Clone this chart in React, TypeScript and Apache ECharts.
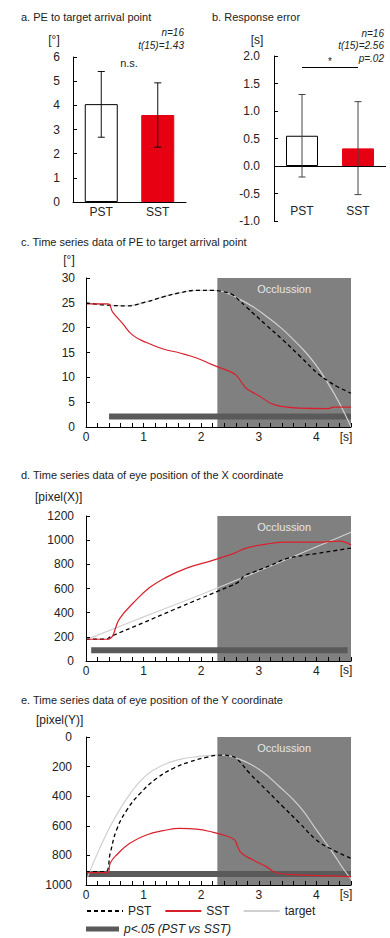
import React, { useEffect, useRef } from 'react';
import * as echarts from 'echarts';

// ---------- data ----------
const barCategories = ['PST', 'SST'];
const peMeans = [4.05, 3.6];
const peLow = [2.68, 2.27];
const peHigh = [5.4, 4.93];
const reMeans = [0.55, 0.32];
const reLow = [-0.2, -0.52];
const reHigh = [1.3, 1.17];
const reSigLevel = 1.8;

const occlusionStart = 2.28;
const occlusionEnd = 4.6;

// panel c: PE to target arrival point [deg]
const cTargetT = [0, 0.3, 0.7, 1.05, 1.34, 1.62, 1.91, 2.2, 2.4, 2.67, 2.9, 3.13, 3.4, 3.6, 3.8, 3.97, 4.17, 4.4, 4.6];
const cTargetV = [25, 24.6, 24.4, 25.2, 26.2, 27, 27.5, 27.5, 27.2, 25.7, 24.2, 22.3, 19.8, 17.6, 15.2, 12.8, 9.4, 4.8, 0];
const cPstT = [0, 0.3, 0.7, 1.05, 1.34, 1.62, 1.91, 2.2, 2.4, 2.55, 2.65, 2.78, 3.13, 3.42, 3.7, 4.05, 4.2, 4.35, 4.6];
const cPstV = [25, 24.6, 24.4, 25.2, 26.2, 27, 27.5, 27.5, 27.2, 26.6, 25.6, 24.2, 20.5, 17.5, 14.4, 10.5, 9.3, 8.2, 6.8];
const cSstT = [0, 0.38, 0.46, 0.63, 0.81, 1.05, 1.34, 1.63, 1.92, 2.2, 2.49, 2.6, 2.7, 2.78, 3.0, 3.24, 3.5, 3.7, 4.2, 4.3, 4.6];
const cSstV = [24.8, 24.8, 23.2, 20.9, 18.5, 17, 15.7, 14.9, 13.9, 12.5, 11.2, 10.5, 9.0, 7.8, 6.3, 4.6, 4.0, 3.8, 3.7, 4.0, 4.0];
const cSigRange = [0.4, 4.6];
const cSigLevel = 2.1;

// panel d: eye position X [pixel]
const dTargetT = [0.05, 1, 2, 3, 4, 4.6];
const dTargetV = [185, 365, 550, 745, 945, 1065];
const dPstT = [0, 0.35, 0.42, 1.0, 1.5, 2.0, 2.29, 2.5, 2.65, 2.75, 2.93, 3.2, 3.47, 3.8, 4.05, 4.3, 4.6];
const dPstV = [180, 180, 200, 318, 420, 520, 578, 620, 655, 705, 740, 790, 845, 876, 893, 912, 934];
const dSstT = [0, 0.37, 0.59, 0.82, 1.11, 1.4, 1.75, 2.1, 2.32, 2.58, 2.78, 3.13, 3.47, 4.0, 4.4, 4.6];
const dSstV = [180, 180, 355, 480, 610, 694, 769, 818, 851, 893, 934, 967, 983, 983, 992, 959];
const dSigRange = [0.09, 4.54];
const dSigLevel = 90;

// panel e: eye position Y [pixel]
const eTargetT = [0.03, 0.25, 0.48, 0.77, 1.05, 1.34, 1.63, 1.92, 2.32, 2.67, 3.02, 3.36, 3.71, 4.0, 4.29, 4.46, 4.6];
const eTargetV = [943, 741, 561, 381, 257, 189, 151, 133, 122, 151, 223, 336, 471, 628, 786, 887, 960];
const ePstT = [0, 0.33, 0.42, 0.53, 0.71, 0.94, 1.23, 1.52, 1.81, 2.09, 2.32, 2.5, 2.61, 2.84, 3.13, 3.42, 3.71, 4.0, 4.23, 4.6];
const ePstV = [910, 910, 786, 628, 493, 381, 279, 211, 167, 137, 122, 128, 144, 245, 358, 471, 583, 696, 752, 820];
const eSstT = [0, 0.38, 0.42, 0.53, 0.76, 1.05, 1.34, 1.63, 1.92, 2.21, 2.44, 2.58, 2.63, 2.7, 2.9, 3.13, 3.3, 3.71, 4.29, 4.6];
const eSstV = [917, 917, 853, 797, 718, 662, 633, 617, 622, 644, 669, 696, 740, 786, 831, 876, 917, 932, 939, 943];
const eSigRange = [0, 4.6];
const eSigLevel = 926;

const sigName = 'p<.05 (PST vs SST)';

// ---------- styles ----------
const FONT = '"Liberation Sans", Arial, Helvetica, sans-serif';
const TXT = '#222';
const RED_BAR = '#e60012';
const RED_LINE = '#d8202c';
const TARGET = '#d0d0d0';
const SIG = '#5a5a5a';
const OCC = '#808080';

const pairs = (t: number[], v: number[]) => t.map((x, i) => [x, v[i]]);

const timeXAxis = (gridIndex: number) => ({
  type: 'value',
  gridIndex,
  min: 0,
  max: 4.6,
  interval: 0.2,
  z: 5,
  axisLine: { show: true, onZero: false, lineStyle: { color: '#000', width: 1 } },
  axisTick: { show: true, inside: true, length: 4, lineStyle: { color: '#000' } },
  splitLine: { show: false },
  axisLabel: {
    fontSize: 12,
    color: TXT,
    margin: 4,
    formatter: (v: number) => (Math.abs(v - Math.round(v)) < 1e-6 ? String(Math.round(v)) : ''),
  },
});

const valYAxis = (gridIndex: number, min: number, max: number, interval: number, margin: number, extra: any = {}) => ({
  type: 'value',
  gridIndex,
  min,
  max,
  interval,
  z: 5,
  axisLine: { show: true, onZero: false, lineStyle: { color: '#000', width: 1 } },
  axisTick: { show: true, inside: true, length: 4, lineStyle: { color: '#000' } },
  splitLine: { show: false },
  axisLabel: { fontSize: 12, color: TXT, margin, formatter: (v: number) => String(v) },
  ...extra,
});

const lineSeries = (name: string, idx: number, data: number[][], color: string, width: number, type: any) => ({
  name,
  type: 'line',
  xAxisIndex: idx,
  yAxisIndex: idx,
  data,
  symbol: 'none',
  showSymbol: false,
  smooth: 0.45,
  color,
  itemStyle: { color },
  lineStyle: { color, width, type },
  silent: true,
  z: 3,
});

const sigSeries = (idx: number, range: number[], level: number) => ({
  name: sigName,
  type: 'line',
  xAxisIndex: idx,
  yAxisIndex: idx,
  data: [[range[0], level], [range[1], level]],
  symbol: 'none',
  showSymbol: false,
  color: SIG,
  itemStyle: { color: SIG },
  lineStyle: { color: SIG, width: 6, cap: 'butt' },
  silent: true,
  z: 2,
  markArea: {
    silent: true,
    itemStyle: { color: OCC },
    label: { show: true, position: 'insideTop', color: '#e6e6e6', fontSize: 11, distance: 5, fontFamily: FONT },
    data: [[{ name: 'Occlussion', xAxis: occlusionStart }, { xAxis: occlusionEnd }]],
  },
});

const errorSeries = (idx: number, low: number[], high: number[], color: string) => ({
  type: 'custom',
  xAxisIndex: idx,
  yAxisIndex: idx,
  silent: true,
  z: 4,
  data: low.map((l, i) => [i, l, high[i]]),
  encode: { x: 0, y: [1, 2] },
  renderItem: (params: any, api: any) => {
    const i = api.value(0);
    const pLo = api.coord([i, api.value(1)]);
    const pHi = api.coord([i, api.value(2)]);
    const cw = 3.5;
    const st = { stroke: color, lineWidth: 1 };
    return {
      type: 'group',
      children: [
        { type: 'line', shape: { x1: pLo[0], y1: pLo[1], x2: pHi[0], y2: pHi[1] }, style: st },
        { type: 'line', shape: { x1: pLo[0] - cw, y1: pLo[1], x2: pLo[0] + cw, y2: pLo[1] }, style: st },
        { type: 'line', shape: { x1: pHi[0] - cw, y1: pHi[1], x2: pHi[0] + cw, y2: pHi[1] }, style: st },
      ],
    };
  },
});

const barData = (vals: number[]) => [
  { value: vals[0], itemStyle: { color: '#ffffff', borderColor: '#000', borderWidth: 1 } },
  { value: vals[1], itemStyle: { color: RED_BAR, borderColor: RED_BAR, borderWidth: 1 } },
];

const txt = (text: string, x: number, y: number, fontSize: number, align = 'left', italic = false, fill = TXT) => ({
  type: 'text',
  x,
  y,
  silent: true,
  style: {
    text,
    fontSize,
    fontFamily: FONT,
    fontStyle: italic ? 'italic' : 'normal',
    fill,
    align,
    textAlign: align,
    verticalAlign: 'middle',
    textVerticalAlign: 'middle',
  },
});

export default function App() {
  const ref = useRef<HTMLDivElement>(null);

  useEffect(() => {
    if (!ref.current) return;
    const chart = echarts.init(ref.current, undefined, { renderer: 'svg' });

    const option: any = {
      animation: false,
      backgroundColor: '#ffffff',
      textStyle: { fontFamily: FONT, color: TXT },
      grid: [
        { left: 73, top: 57, width: 113, height: 145 },
        { left: 274, top: 56, width: 112, height: 165 },
        { left: 86, top: 278, width: 265, height: 149 },
        { left: 86, top: 516, width: 265, height: 145 },
        { left: 86, top: 737, width: 265, height: 148 },
      ],
      xAxis: [
        {
          type: 'category',
          gridIndex: 0,
          data: barCategories,
          axisLine: { show: true, lineStyle: { color: '#000' } },
          axisTick: { show: false },
          axisLabel: { fontSize: 12, color: TXT, margin: 4 },
        },
        {
          type: 'category',
          gridIndex: 1,
          data: barCategories,
          axisLine: { show: false, onZero: false },
          axisTick: { show: false },
          axisLabel: { fontSize: 12, color: TXT, margin: -16 },
        },
        timeXAxis(2),
        timeXAxis(3),
        timeXAxis(4),
      ],
      yAxis: [
        valYAxis(0, 0, 6, 1, 13),
        valYAxis(1, -1, 2, 0.5, 14, {
          axisLabel: { fontSize: 12, color: TXT, margin: 14, formatter: (v: number) => v.toFixed(1) },
        }),
        valYAxis(2, 0, 30, 5, 11),
        valYAxis(3, 0, 1200, 200, 12),
        valYAxis(4, 0, 1000, 200, 14, { inverse: true }),
      ],
      legend: [
        {
          data: ['PST', 'SST', 'target'],
          left: 86,
          top: 905,
          padding: 0,
          itemWidth: 36,
          itemHeight: 14,
          itemGap: 13,
          selectedMode: false,
          itemStyle: { opacity: 0 },
          textStyle: { fontSize: 12, color: TXT, fontFamily: FONT },
        },
        {
          data: [{ name: sigName, icon: 'rect' }],
          left: 86,
          top: 922,
          padding: 0,
          itemWidth: 33,
          itemHeight: 5,
          selectedMode: false,
          textStyle: { fontSize: 12, color: TXT, fontStyle: 'italic', fontFamily: FONT, lineHeight: 14 },
        },
      ],
      series: [
        // panel a
        { type: 'bar', xAxisIndex: 0, yAxisIndex: 0, barWidth: 33, data: barData(peMeans), silent: true },
        errorSeries(0, peLow, peHigh, '#111'),
        // panel b
        {
          type: 'bar',
          xAxisIndex: 1,
          yAxisIndex: 1,
          barWidth: 32,
          data: barData(reMeans),
          silent: true,
          markLine: {
            silent: true,
            symbol: 'none',
            animation: false,
            data: [
              { yAxis: 0, lineStyle: { color: '#000', width: 1, type: 'solid' }, label: { show: false } },
              [
                {
                  coord: [barCategories[0], reSigLevel],
                  lineStyle: { color: '#000', width: 1, type: 'solid' },
                  label: { show: true, formatter: '*', position: 'middle', fontSize: 10, color: TXT, distance: 1 },
                },
                { coord: [barCategories[1], reSigLevel] },
              ],
            ],
          },
        },
        errorSeries(1, reLow, reHigh, '#444'),
        // panel c
        sigSeries(2, cSigRange, cSigLevel),
        lineSeries('target', 2, pairs(cTargetT, cTargetV), TARGET, 1.2, 'solid'),
        lineSeries('PST', 2, pairs(cPstT, cPstV), '#000', 1.3, [4, 3]),
        lineSeries('SST', 2, pairs(cSstT, cSstV), RED_LINE, 1.2, 'solid'),
        // panel d
        sigSeries(3, dSigRange, dSigLevel),
        lineSeries('target', 3, pairs(dTargetT, dTargetV), TARGET, 1.2, 'solid'),
        lineSeries('PST', 3, pairs(dPstT, dPstV), '#000', 1.3, [4, 3]),
        lineSeries('SST', 3, pairs(dSstT, dSstV), RED_LINE, 1.2, 'solid'),
        // panel e
        sigSeries(4, eSigRange, eSigLevel),
        lineSeries('target', 4, pairs(eTargetT, eTargetV), TARGET, 1.2, 'solid'),
        lineSeries('PST', 4, pairs(ePstT, ePstV), '#000', 1.3, [4, 3]),
        lineSeries('SST', 4, pairs(eSstT, eSstV), RED_LINE, 1.2, 'solid'),
      ],
      graphic: [
        txt('a. PE to target arrival point', 21, 17, 11),
        txt('b. Response error', 212, 17, 11),
        txt('c. Time series data of PE to target arrival point', 21, 242, 11),
        txt('d. Time series data of eye position of the X coordinate', 21, 475, 11),
        txt('e. Time series data of eye position of the Y coordinate', 21, 700, 11),
        txt('[°]', 54, 40, 12, 'center'),
        txt('[s]', 257, 40, 12, 'center'),
        txt('[°]', 69, 260, 12, 'center'),
        txt('[pixel(X)]', 35, 497, 12),
        txt('[pixel(Y)]', 36, 720, 12),
        txt('n=16', 184, 32, 10, 'right', true),
        txt('t(15)=1.43', 184, 45, 10, 'right', true),
        txt('n=16', 384, 33, 10, 'right', true),
        txt('t(15)=2.56', 384, 45, 10, 'right', true),
        txt('p=.02', 384, 58, 10, 'right', true),
        txt('n.s.', 129, 63, 11, 'center'),
        txt('[s]', 346, 437, 12, 'center'),
        txt('[s]', 346, 670, 12, 'center'),
        txt('[s]', 346, 894, 12, 'center'),
      ],
    };

    chart.setOption(option);
    return () => chart.dispose();
  }, []);

  return (
    <div
      ref={ref}
      style={{ position: 'absolute', left: 0, top: 0, width: 390, height: 938, background: '#fff' }}
    />
  );
}
